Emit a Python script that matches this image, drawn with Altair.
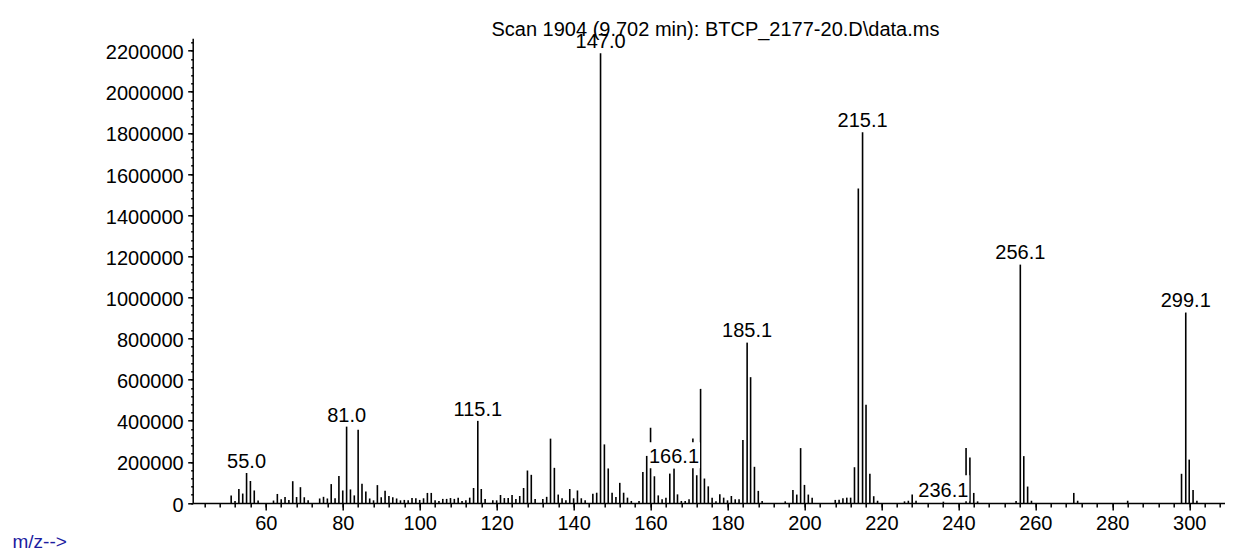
import altair as alt
import pandas as pd

# ---- data ----
mz = [51, 52, 53, 54, 55.0, 56, 57, 58, 62, 63, 64, 65, 66, 67, 68, 69, 70, 71,
      74, 75, 76, 77, 78, 79, 80, 81.0, 82, 83, 84, 85, 86, 87, 88, 89, 90, 91,
      92, 93, 94, 95, 96, 97, 98, 99, 100, 101, 102, 103, 104, 105, 106, 107,
      108, 109, 110, 111, 112, 113, 114, 115.1, 116, 117, 119, 120, 121, 122,
      123, 124, 125, 126, 127, 128, 129, 130, 132, 133, 134, 135, 136, 137, 138,
      139, 140, 141, 142, 143, 145, 146, 147.0, 148, 149, 150, 151, 152, 153,
      154, 155, 157, 158, 159, 160, 161, 162, 163, 164, 165, 166.1, 167, 168,
      169, 170, 171, 172, 173, 174, 175, 176, 177, 178, 179, 180, 181, 182, 183,
      184, 185.1, 186, 187, 188, 189, 195, 197, 198, 199, 200, 201, 202, 208,
      209, 210, 211, 212, 213, 214, 215.1, 216, 217, 218, 219, 226, 227, 228,
      229, 236.1, 242, 243, 244, 245, 255, 256.1, 257, 258, 259, 270, 271, 284,
      298, 299.1, 300, 301, 302]
abundance = [37000, 10000, 68000, 46000, 146000, 107000, 61000, 12000, 12000,
             44000, 18000, 29000, 15000, 106000, 29000, 77000, 28000, 13000,
             22000, 30000, 22000, 92000, 23000, 131000, 61000, 372000, 66000,
             37000, 356000, 94000, 56000, 22000, 13000, 87000, 28000, 59000,
             34000, 28000, 22000, 13000, 15000, 13000, 24000, 23000, 15000,
             23000, 49000, 49000, 13000, 10000, 20000, 20000, 24000, 20000,
             26000, 10000, 13000, 26000, 73000, 400000, 68000, 20000, 13000,
             13000, 39000, 24000, 24000, 39000, 20000, 34000, 73000, 158000,
             137000, 20000, 20000, 30000, 313000, 171000, 41000, 23000, 13000,
             68000, 23000, 61000, 23000, 13000, 45000, 50000, 2187000, 285000,
             168000, 50000, 29000, 98000, 50000, 26000, 10000, 10000, 151000,
             229000, 366000, 130000, 37000, 18000, 26000, 143000, 168000, 42000,
             10000, 10000, 18000, 314000, 135000, 555000, 119000, 81000, 26000,
             8000, 42000, 26000, 13000, 34000, 18000, 18000, 306000, 781000,
             612000, 176000, 59000, 10000, 8000, 63000, 41000, 267000, 88000,
             41000, 26000, 15000, 16000, 23000, 26000, 26000, 174000, 1530000,
             1803000, 478000, 142000, 33000, 11000, 8000, 11000, 41000, 11000,
             7000, 268000, 221000, 49000, 8000, 10000, 1160000, 228000, 80000,
             11000, 49000, 11000, 11000, 142000, 927000, 211000, 63000, 11000]
label_mz = [55.0, 81.0, 115.1, 147.0, 166.1, 185.1, 215.1, 236.1, 256.1, 299.1]

x_major = list(range(60, 301, 20))
x_minor = list(range(44, 309, 4))
y_major = list(range(0, 2200001, 200000))
y_minor = list(range(0, 2260001, 40000))

title_text = "Scan 1904 (9.702 min): BTCP_2177-20.D\\data.ms"
x_title = "m/z-->"

df = pd.DataFrame({"mz": mz, "abund": abundance})
lab = df[df["mz"].isin(label_mz)].copy()
lab["text"] = lab["mz"].map(lambda v: f"{v:.1f}")

FONT = "Liberation Sans"
xscale = alt.Scale(domain=[41, 309.3], nice=False, zero=False)
yscale = alt.Scale(domain=[0, 2260000], nice=False, zero=True)

bars = alt.Chart(df).mark_rule(color="#000000", strokeWidth=1.6).encode(
    x=alt.X("mz:Q", scale=xscale,
            axis=alt.Axis(values=x_major, tickSize=7, tickWidth=1.5, tickColor="#000",
                          domainColor="#000", domainWidth=1.5, grid=False,
                          labelFont=FONT, labelFontSize=20, labelColor="#000",
                          labelPadding=3, labelFlush=False, labelOverlap=False,
                          title=x_title, titleFont=FONT, titleFontSize=19,
                          titleFontWeight="normal", titleColor="#1c1ca0",
                          titleX=-180.7, titleY=44, titleAlign="left",
                          titleAnchor="start", titleBaseline="alphabetic",
                          orient="bottom")),
    y=alt.Y("abund:Q", scale=yscale,
            axis=alt.Axis(values=y_major, tickSize=5, tickWidth=1.5, tickColor="#000",
                          domainColor="#000", domainWidth=1.5, grid=False,
                          labelFont=FONT, labelFontSize=20, labelColor="#000",
                          labelPadding=4.5, labelOffset=2, format="d",
                          labelFlush=False, labelOverlap=False, title=None,
                          orient="left")),
    y2=alt.datum(0),
)

minor = alt.Chart(df).mark_point(opacity=0).encode(
    x=alt.X("mz:Q", scale=xscale,
            axis=alt.Axis(values=x_minor, tickSize=4, tickWidth=1.5, tickColor="#000",
                          domain=False, labels=False, grid=False, title=None,
                          orient="bottom")),
    y=alt.Y("abund:Q", scale=yscale,
            axis=alt.Axis(values=y_minor, tickSize=2, tickWidth=1.5, tickColor="#000",
                          domain=False, labels=False, grid=False, title=None,
                          orient="left")),
)

boxes = alt.Chart(lab).mark_point(
    shape="M-1,-0.5H1V0.5H-1Z", filled=True, color="white", opacity=1,
    size=2704, strokeWidth=0, yOffset=-13.2
).encode(
    x=alt.X("mz:Q", scale=xscale, axis=None),
    y=alt.Y("abund:Q", scale=yscale, axis=None),
)

texts = alt.Chart(lab).mark_text(
    baseline="alphabetic", align="center", dy=-5, font=FONT, fontSize=20, color="#000"
).encode(
    x=alt.X("mz:Q", scale=xscale, axis=None),
    y=alt.Y("abund:Q", scale=yscale, axis=None),
    text="text:N",
)

chart = alt.layer(bars, minor, boxes, texts).resolve_scale(
    x="independent", y="independent"
).resolve_axis(
    x="independent", y="independent"
).properties(
    width=1032.3, height=464.7,
    autosize=alt.AutoSizeParams(type="none"),
    padding={"left": 184.7, "top": 30.3, "right": 0, "bottom": 49},
    background="white",
    title=alt.TitleParams(title_text, font=FONT, fontSize=20, fontWeight="normal",
                          color="#000", anchor="middle", frame="group", dx=6.6,
                          offset=0, dy=29, baseline="alphabetic"),
).configure_view(stroke=None)

chart.save("out.html", embed_options={"renderer": "svg", "actions": False})
